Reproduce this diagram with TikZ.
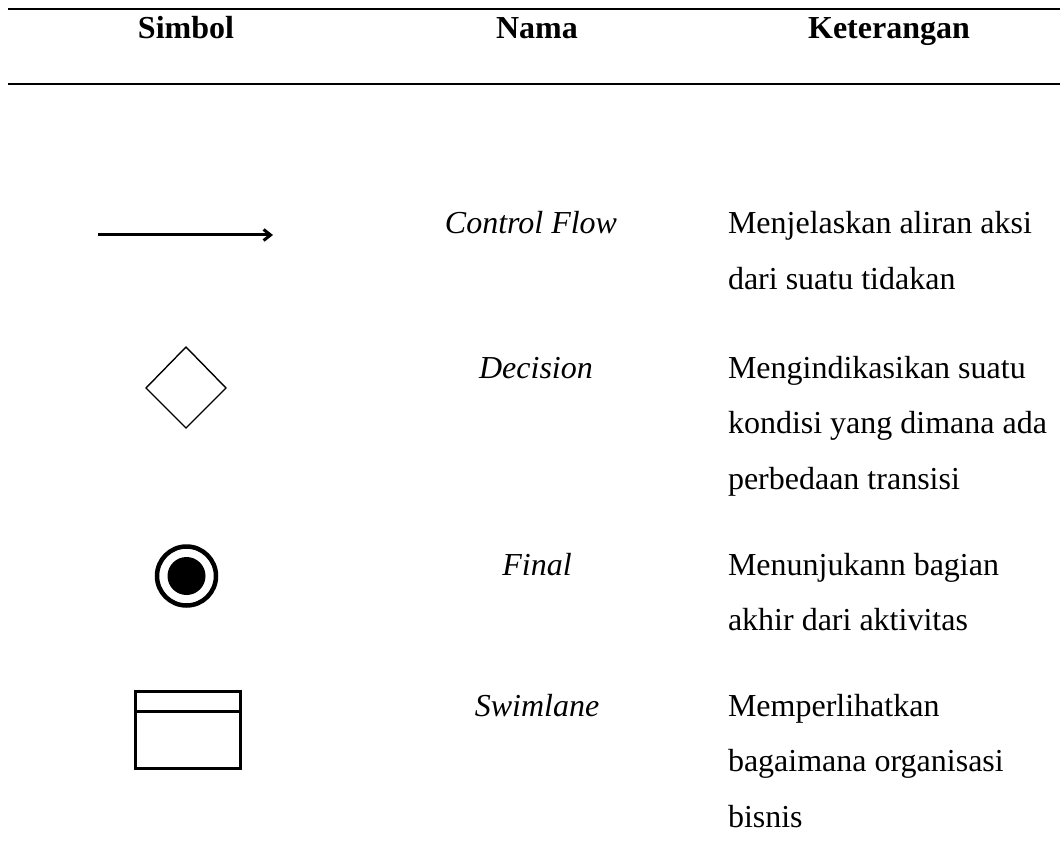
\documentclass[tikz,border=0pt]{standalone}
\usepackage{fontspec}
\setmainfont{Liberation Serif}
\usetikzlibrary{arrows.meta}

\begin{document}
\begin{tikzpicture}[x=1pt,y=-1pt,
  every node/.style={inner sep=0pt, outer sep=0pt, font=\fontsize{32}{55.5}\selectfont},
  headcell/.style={anchor=base, font=\fontsize{32}{55.5}\selectfont\bfseries},
  namecell/.style={anchor=base, font=\fontsize{32}{55.5}\selectfont\itshape},
  desccell/.style={anchor=base west},
  rule/.style={line width=2pt},
  sym/.style={line width=3pt, black}
]
\newcommand{\desclines}[1]{\vtop{\baselineskip=55.5pt #1}}

% canvas
\useasboundingbox (0,0) rectangle (1060,850);

% table rules
\coordinate (r1a) at (8,9);    \coordinate (r1b) at (1060,9);
\coordinate (r2a) at (8,84.5); \coordinate (r2b) at (1060,84.5);
\draw[rule] (r1a) -- (r1b);
\draw[rule] (r2a) -- (r2b);

% header
\node[headcell] (hsimbol) at (186,39) {Simbol};
\node[headcell] (hnama)   at (537,39) {Nama};
\node[headcell] (hket)    at (889,39) {Keterangan};

% row 1: control flow
\coordinate (cfs) at (98,235);
\coordinate (cfe) at (273,235);
\draw[sym, -{Straight Barb[length=7pt,width=11pt,line width=3pt]}] (cfs) -- (cfe);
\node[namecell] (n1) at (531,234) {Control Flow};
\node[desccell] (d1) at (728,234) {\desclines{\hbox{Menjelaskan aliran aksi}\hbox{dari suatu tidakan}}};

% row 2: decision
\draw[line width=1.4pt] (186,347) -- (226,388) -- (186,428) -- (146,388) -- cycle;
\node[namecell] (n2) at (536,378) {Decision};
\node[desccell] (d2) at (728,378) {\desclines{\hbox{Mengindikasikan suatu}\hbox{kondisi yang dimana ada}\hbox{perbedaan transisi}}};

% row 3: final
\draw[line width=4.5pt] (186.5,576) circle (29.5);
\fill (186.5,576) circle (19);
\node[namecell] (n3) at (537,575) {Final};
\node[desccell] (d3) at (728,575) {\desclines{\hbox{Menunjukann bagian}\hbox{akhir dari aktivitas}}};

% row 4: swimlane
\draw[sym] (135,691) rectangle (240,768);
\draw[sym] (135,711) -- (240,711);
\node[namecell] (n4) at (537,716) {Swimlane};
\node[desccell] (d4) at (728,716) {\desclines{\hbox{Memperlihatkan}\hbox{bagaimana organisasi}\hbox{bisnis}}};
\end{tikzpicture}
\end{document}
